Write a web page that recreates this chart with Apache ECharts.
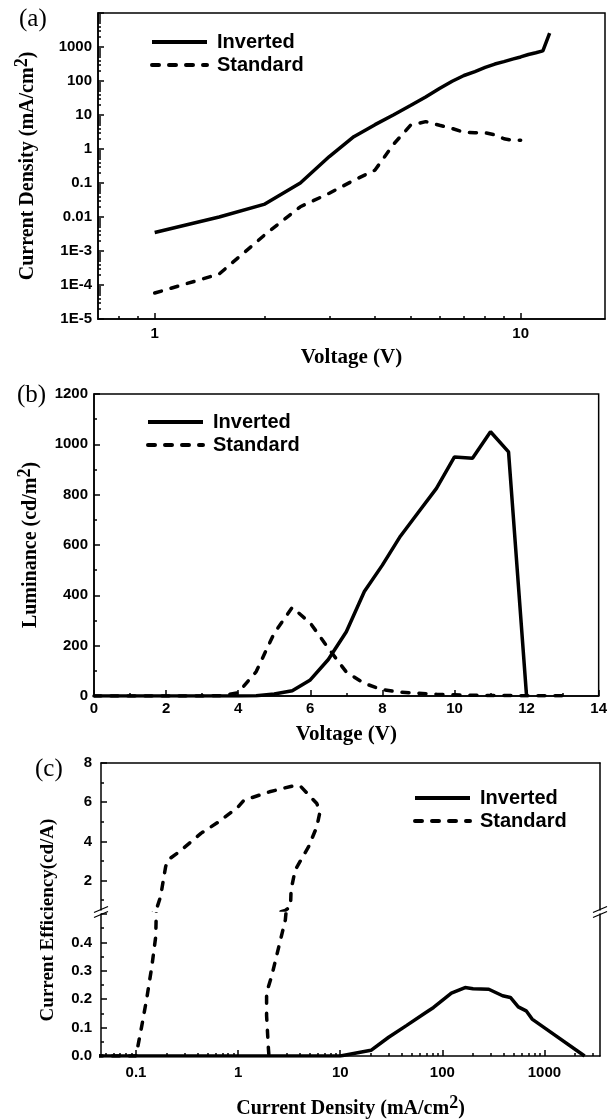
<!DOCTYPE html>
<html>
<head>
<meta charset="utf-8">
<script src="https://cdn.jsdelivr.net/npm/echarts@6/dist/echarts.min.js"></script>
<style>
  html, body { margin: 0; padding: 0; background: #fff; }
  #chart { width: 610px; height: 1120px; }
</style>
</head>
<body>
<div id="chart"></div>
<script>
// (a) current density vs voltage
const jvVoltInv = [1, 1.5, 2, 2.5, 3, 3.5, 4, 4.5, 5, 5.5, 6, 6.5, 7, 7.5, 8, 8.5, 9, 9.5, 10, 10.5, 11, 11.5, 12];
const jvCurInv = [0.0035, 0.01, 0.024, 0.1, 0.6, 2.3, 5.2, 10.2, 19, 34, 60, 98, 145, 190, 250, 315, 370, 440, 510, 600, 680, 770, 2570];
const jvVoltStd = [1, 1.5, 2, 2.5, 3, 3.5, 4, 4.5, 5, 5.5, 6, 6.5, 7, 7.5, 8, 8.5, 9, 9.5, 10];
const jvCurStd = [5.8e-5, 2.1e-4, 3.0e-3, 0.02, 0.05, 0.12, 0.24, 1.4, 5.0, 6.4, 5.0, 4.0, 3.1, 3.0, 3.0, 2.6, 2.0, 1.8, 1.8];
const jvXLabels = [1, 10];
const jvYLabels = [1e-5, 1e-4, 1e-3, 0.01, 0.1, 1, 10, 100, 1000];

// (b) luminance vs voltage
const lvVoltInv = [0, 1, 2, 3, 4, 4.5, 5, 5.5, 6, 6.5, 7, 7.5, 8, 8.5, 9, 9.5, 10, 10.5, 11, 11.5, 12];
const lvLumInv = [0, 0, 0, 0, 0, 1, 8, 21, 64, 145, 255, 415, 520, 635, 730, 825, 950, 945, 1050, 970, 0];
const lvVoltStd = [0, 1, 2, 3, 3.5, 4, 4.5, 5, 5.5, 6, 6.5, 7, 7.5, 8, 8.5, 9, 9.5, 10, 10.5, 11, 11.5, 12, 12.5, 13, 13.2];
const lvLumStd = [0, 0, 0, 0, 1, 13, 97, 250, 352, 290, 190, 95, 50, 25, 15, 11, 7, 5, 3, 2, 2, 1, 1, 1, 1];

// (c) current efficiency vs current density
const ceCurInv = [0.04, 10, 20, 29.8, 44.4, 69, 82, 122.6, 167, 200, 285, 389, 464, 554, 662, 757, 987, 2473];
const ceEffInv = [0, 0, 0.02, 0.066, 0.107, 0.153, 0.171, 0.221, 0.241, 0.237, 0.235, 0.212, 0.206, 0.173, 0.159, 0.13, 0.101, 0];
const ceCurStd = [0.04, 0.1, 0.114, 0.127, 0.143, 0.156, 0.174, 0.195, 0.205, 0.265, 0.432, 0.645, 1.0, 1.14, 2.03, 3.62, 4.14, 5.9, 6.33, 5.9, 4.9, 3.62, 3.3, 3.26, 2.9, 2.42, 2.13, 1.9, 1.9, 1.98, 2.0];
const ceEffStd = [0, 0, 0.107, 0.2, 0.316, 0.421, 1.19, 2.71, 3.05, 3.47, 4.41, 5.0, 5.76, 6.1, 6.53, 6.86, 6.78, 5.93, 5.5, 4.75, 3.73, 2.54, 1.53, 0.68, 0.479, 0.363, 0.281, 0.223, 0.142, 0.026, 0.005];
const ceXLabels = [0.1, 1, 10, 100, 1000];
const ceUpperLabels = [2, 4, 6, 8];
const ceUpperMinor = [1, 3, 5, 7];
const ceLowerLabels = [0, 0.1, 0.2, 0.3, 0.4];

const zip = (xs, ys) => xs.map((x, i) => [x, ys[i]]);

// minor ticks of a log axis: 2..9 in each decade
function logMinor(min, max) {
  const out = [];
  for (let e = -6; e <= 4; e++) {
    for (let m = 2; m <= 9; m++) {
      const v = m * Math.pow(10, e);
      if (v > min * 1.001 && v < max * 0.999) out.push(v);
    }
  }
  return out;
}

const tickFont = { fontFamily: 'Liberation Sans', fontWeight: 'bold', fontSize: 15, color: '#000' };
const nameFont = { fontFamily: 'Liberation Serif', fontWeight: 'bold', fontSize: 21, color: '#000' };
const supRich = {
  t: { fontFamily: 'Liberation Serif', fontWeight: 'bold', fontSize: 20, color: '#000' },
  s: { fontFamily: 'Liberation Serif', fontWeight: 'bold', fontSize: 18, color: '#000', padding: [0, 0, 12, 0] }
};
const black = { color: '#000', width: 1.5 };
const solid = { color: '#000', width: 3.5, type: 'solid' };
const dashed = { color: '#000', width: 3.5, type: [7, 10], cap: 'round' };

const gA = { left: 98, top: 13, width: 507, height: 306 };
const gB = { left: 94, top: 394, width: 507, height: 302 };
const gCu = { left: 101, top: 763, width: 499, height: 147 };
const gCl = { left: 101, top: 914, width: 499, height: 143 };

const aXMin = 0.7, aXMax = 17;
const cXMin = 0.0454, cXMax = 3500;

const plainNum = v => String(+(+v).toPrecision(6));

function legendAt(left, top) {
  return {
    data: ['Inverted', 'Standard'], orient: 'vertical', left: left, top: top, padding: 0,
    itemWidth: 55, itemHeight: 14, itemGap: 3, selectedMode: false,
    itemStyle: { opacity: 0 }, lineStyle: { width: 4 },
    textStyle: { fontFamily: 'Liberation Sans', fontWeight: 'bold', fontSize: 20, color: '#000', padding: [0, 0, 0, 5] }
  };
}

function lineSeries(name, data, style, xi, yi) {
  return {
    name: name, type: 'line', data: data, xAxisIndex: xi, yAxisIndex: yi,
    symbol: 'none', lineStyle: style, itemStyle: { color: '#000' }, silent: true, animation: false
  };
}

const expLabel = v => {
  const e = Math.round(Math.log10(v));
  return e >= -2 ? plainNum(Math.pow(10, e)) : '1E' + e;
};

const chart = echarts.init(document.getElementById('chart'), null, { renderer: 'canvas' });

// break marks on the left and right axes of (c)
const brkY = (gCu.top + gCu.height + gCl.top) / 2;
function breakMark(x) {
  return [-2.5, 2.5].map(d => ({
    type: 'line', silent: true,
    shape: { x1: x - 7, y1: brkY + d + 3, x2: x + 7, y2: brkY + d - 3 },
    style: { stroke: '#000', lineWidth: 1.3 }
  }));
}

const panelFont = { fontFamily: 'Liberation Serif', fontWeight: 'normal', fontSize: 25, color: '#000' };

chart.setOption({
  animation: false,
  backgroundColor: '#fff',
  title: [
    { text: '(a)', left: 14, top: 2, textStyle: panelFont },
    { text: '(b)', left: 12, top: 378, textStyle: panelFont },
    { text: '(c)', left: 30, top: 752, textStyle: panelFont }
  ],
  legend: [legendAt(150, 32), legendAt(146, 412), legendAt(413, 788)],
  grid: [
    Object.assign({ show: true, borderColor: '#000', borderWidth: 1.5 }, gA),
    Object.assign({ show: true, borderColor: '#000', borderWidth: 1.5 }, gB),
    gCu, gCl
  ],
  xAxis: [
    { // 0: (a) main
      type: 'log', gridIndex: 0, min: aXMin, max: aXMax, position: 'bottom',
      name: 'Voltage (V)', nameLocation: 'middle', nameGap: 28, nameTextStyle: nameFont,
      axisLine: { lineStyle: black }, splitLine: { show: false },
      axisTick: { inside: true, length: 6, customValues: jvXLabels, lineStyle: black },
      axisLabel: { customValues: jvXLabels, margin: 7, formatter: plainNum, ...tickFont }
    },
    { // 1: (a) minor
      type: 'log', gridIndex: 0, min: aXMin, max: aXMax, position: 'bottom',
      axisLine: { show: false }, splitLine: { show: false }, axisLabel: { show: false },
      axisTick: { inside: true, length: 3, customValues: logMinor(aXMin, aXMax), lineStyle: black }
    },
    { // 2: (b)
      type: 'value', gridIndex: 1, min: 0, max: 14, interval: 2,
      name: 'Voltage (V)', nameLocation: 'middle', nameGap: 28, nameTextStyle: nameFont,
      axisLine: { onZero: false, lineStyle: black }, splitLine: { show: false },
      axisTick: { inside: true, length: 6, lineStyle: black },
      minorTick: { show: true, splitNumber: 2, length: 3, lineStyle: black },
      axisLabel: { margin: 5, formatter: plainNum, ...tickFont }
    },
    { // 3: (c) upper, top frame line
      type: 'log', gridIndex: 2, min: cXMin, max: cXMax, position: 'top',
      axisLine: { onZero: false, lineStyle: black }, axisTick: { show: false },
      axisLabel: { show: false }, splitLine: { show: false }
    },
    { // 4: (c) lower main
      type: 'log', gridIndex: 3, min: cXMin, max: cXMax, position: 'bottom',
      name: '{t|Current Density (mA/cm}{s|2}{t|)}', nameLocation: 'middle', nameGap: 38,
      nameTextStyle: { rich: supRich },
      axisLine: { onZero: false, lineStyle: black }, splitLine: { show: false },
      axisTick: { inside: true, length: 6, customValues: ceXLabels, lineStyle: black },
      axisLabel: { customValues: ceXLabels, margin: 9, formatter: plainNum, ...tickFont }
    },
    { // 5: (c) lower minor
      type: 'log', gridIndex: 3, min: cXMin, max: cXMax, position: 'bottom',
      axisLine: { show: false }, splitLine: { show: false }, axisLabel: { show: false },
      axisTick: { inside: true, length: 3, customValues: logMinor(cXMin, cXMax), lineStyle: black }
    }
  ],
  yAxis: [
    { // 0: (a) main
      type: 'log', gridIndex: 0, min: 1e-5, max: 1e4, position: 'left',
      name: '{t|Current Density (mA/cm}{s|2}{t|)}', nameLocation: 'middle', nameGap: 55,
      nameTextStyle: { rich: supRich },
      axisLine: { onZero: false, lineStyle: black }, splitLine: { show: false },
      axisTick: { inside: true, length: 6, customValues: jvYLabels.concat([1e4]), lineStyle: black },
      axisLabel: { customValues: jvYLabels, margin: 6, formatter: expLabel, ...tickFont }
    },
    { // 1: (a) minor
      type: 'log', gridIndex: 0, min: 1e-5, max: 1e4, position: 'left',
      axisLine: { show: false }, splitLine: { show: false }, axisLabel: { show: false },
      axisTick: { inside: true, length: 3, customValues: logMinor(1e-5, 1e4), lineStyle: black }
    },
    { // 2: (b)
      type: 'value', gridIndex: 1, min: 0, max: 1200, interval: 200, position: 'left',
      name: '{t|Luminance (cd/m}{s|2}{t|)}', nameLocation: 'middle', nameGap: 48,
      nameTextStyle: { rich: supRich },
      axisLine: { onZero: false, lineStyle: black }, splitLine: { show: false },
      axisTick: { inside: true, length: 6, lineStyle: black },
      minorTick: { show: true, splitNumber: 2, length: 3, lineStyle: black },
      axisLabel: { margin: 6, formatter: plainNum, ...tickFont }
    },
    { // 3: (c) upper main
      type: 'value', gridIndex: 2, min: 0.5, max: 8, position: 'left',
      axisLine: { onZero: false, lineStyle: black }, splitLine: { show: false },
      axisTick: { inside: true, length: 6, customValues: ceUpperLabels, lineStyle: black },
      axisLabel: { customValues: ceUpperLabels, margin: 9, formatter: plainNum, ...tickFont }
    },
    { // 4: (c) upper minor
      type: 'value', gridIndex: 2, min: 0.5, max: 8, position: 'left',
      axisLine: { show: false }, splitLine: { show: false }, axisLabel: { show: false },
      axisTick: { inside: true, length: 3, customValues: ceUpperMinor, lineStyle: black }
    },
    { // 5: (c) upper right frame
      type: 'value', gridIndex: 2, min: 0.5, max: 8, position: 'right',
      axisLine: { onZero: false, lineStyle: black }, axisTick: { show: false },
      axisLabel: { show: false }, splitLine: { show: false }
    },
    { // 6: (c) lower main
      type: 'value', gridIndex: 3, min: 0, max: 0.5, interval: 0.1, position: 'left',
      axisLine: { onZero: false, lineStyle: black }, splitLine: { show: false },
      axisTick: { inside: true, length: 6, lineStyle: black },
      minorTick: { show: true, splitNumber: 2, length: 3, lineStyle: black },
      axisLabel: { customValues: ceLowerLabels, margin: 9, formatter: v => (+v).toFixed(1), ...tickFont }
    },
    { // 7: (c) lower right frame
      type: 'value', gridIndex: 3, min: 0, max: 0.5, position: 'right',
      axisLine: { onZero: false, lineStyle: black }, axisTick: { show: false },
      axisLabel: { show: false }, splitLine: { show: false }
    }
  ],
  series: [
    lineSeries('Inverted', zip(jvVoltInv, jvCurInv), solid, 0, 0),
    lineSeries('Standard', zip(jvVoltStd, jvCurStd), dashed, 0, 0),
    lineSeries('Inverted', zip(lvVoltInv, lvLumInv), solid, 2, 2),
    lineSeries('Standard', zip(lvVoltStd, lvLumStd), dashed, 2, 2),
    lineSeries('Standard', zip(ceCurStd, ceEffStd), dashed, 3, 3),
    lineSeries('Inverted', zip(ceCurInv, ceEffInv), solid, 3, 3),
    lineSeries('Standard', zip(ceCurStd, ceEffStd), dashed, 4, 6),
    lineSeries('Inverted', zip(ceCurInv, ceEffInv), solid, 4, 6)
  ],
  graphic: [
    {
      type: 'text', x: 48, y: 920, rotation: Math.PI / 2, silent: true,
      style: { text: 'Current Efficiency(cd/A)', align: 'center', verticalAlign: 'middle',
        font: 'bold 19px "Liberation Serif"', fill: '#000' }
    },
    { type: 'rect', silent: true, shape: { x: gCu.left - 9, y: gCu.top + gCu.height + 1, width: 18, height: gCl.top - gCu.top - gCu.height - 2 }, style: { fill: '#fff' } },
    { type: 'rect', silent: true, shape: { x: gCu.left + gCu.width - 9, y: gCu.top + gCu.height + 1, width: 18, height: gCl.top - gCu.top - gCu.height - 2 }, style: { fill: '#fff' } }
  ].concat(breakMark(gCu.left), breakMark(gCu.left + gCu.width))
});
</script>
</body>
</html>
